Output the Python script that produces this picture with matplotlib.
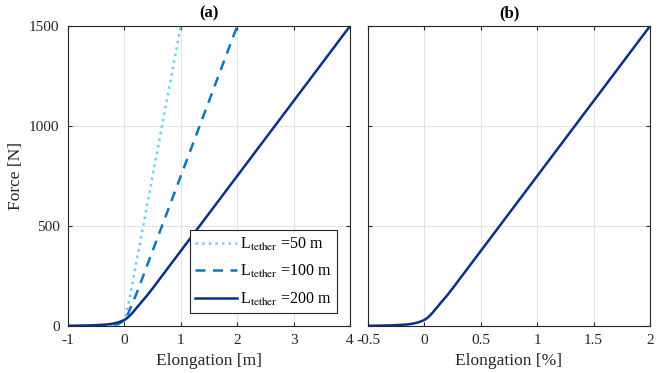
import matplotlib
matplotlib.use("Agg")
import matplotlib.pyplot as plt

plt.rcParams["font.family"] = ["Liberation Serif", "DejaVu Serif"]
plt.rcParams["mathtext.fontset"] = "stix"

# force values [N]
force = [1, 2, 3, 6, 8, 12, 19, 30, 40, 53, 68, 85, 102, 119, 152, 188, 1500]
# elongation [m] for each tether length
elong_200 = [-1.0, -0.8, -0.6, -0.4, -0.3, -0.2, -0.1, 0.0, 0.05, 0.1, 0.15, 0.2, 0.25, 0.3, 0.4, 0.5, 4.0]
elong_100 = [-0.5, -0.4, -0.3, -0.2, -0.15, -0.1, -0.05, 0.0, 0.025, 0.05, 0.075, 0.1, 0.125, 0.15, 0.2, 0.25, 2.0]
elong_50 = [-0.25, -0.2, -0.15, -0.1, -0.075, -0.05, -0.025, 0.0, 0.0125, 0.025, 0.0375, 0.05, 0.0625, 0.075, 0.1, 0.125, 1.0]
# elongation [%] (same for all lengths)
elong_pct = [-0.5, -0.4, -0.3, -0.2, -0.15, -0.1, -0.05, 0.0, 0.025, 0.05, 0.075, 0.1, 0.125, 0.15, 0.2, 0.25, 2.0]

c50 = "#62d2f6"
c100 = "#0a78be"
c200 = "#07318a"

fig = plt.figure(figsize=(6.64, 3.73), dpi=100)
ax1 = fig.add_axes([0.1024, 0.126, 0.4247, 0.804])
ax2 = fig.add_axes([0.5542, 0.126, 0.4247, 0.804])

ax1.plot(elong_50, force, ":", color=c50, lw=1.8, label=r"L$_{\mathrm{tether}}$ =50 m")
ax1.plot(elong_100, force, "--", color=c100, lw=1.8, dashes=(4, 3), label=r"L$_{\mathrm{tether}}$ =100 m")
ax1.plot(elong_200, force, "-", color=c200, lw=1.8, label=r"L$_{\mathrm{tether}}$ =200 m")
ax2.plot(elong_pct, force, "-", color=c200, lw=1.8)

ax1.set_xlim(-1, 4)
ax1.set_xticks([-1, 0, 1, 2, 3, 4])
ax1.set_xticklabels(["-1", "0", "1", "2", "3", "4"])
ax2.set_xlim(-0.5, 2)
ax2.set_xticks([-0.5, 0, 0.5, 1, 1.5, 2])
ax2.set_xticklabels(["-0.5", "0", "0.5", "1", "1.5", "2"])

for ax in (ax1, ax2):
    ax.set_ylim(0, 1500)
    ax.set_yticks([0, 500, 1000, 1500])
    ax.grid(True, color="#e3e3e3", lw=0.8)
    ax.set_axisbelow(True)
    ax.tick_params(direction="in", top=True, right=True, labelsize=11, length=3,
                   color="#262626", labelcolor="#262626", pad=6)
    for s in ax.spines.values():
        s.set_color("#262626")
        s.set_linewidth(0.8)

ax2.tick_params(labelleft=False)

ax1.set_xlabel("Elongation [m]", fontsize=12.5, color="#262626")
ax2.set_xlabel("Elongation [%]", fontsize=12.5, color="#262626")
ax1.set_ylabel("Force [N]", fontsize=12.5, color="#262626")
ax1.set_title("(a)", fontsize=12, fontweight="bold", pad=6)
ax2.set_title("(b)", fontsize=12, fontweight="bold", pad=6)

leg = ax1.legend(loc="lower right", fontsize=11.5, fancybox=False, framealpha=1,
                 edgecolor="#262626", handlelength=2.6, handletextpad=0.2,
                 borderaxespad=0.8, labelspacing=0.65, borderpad=0.35)
leg.get_frame().set_linewidth(0.8)

fig.savefig("out.png", dpi=100)
